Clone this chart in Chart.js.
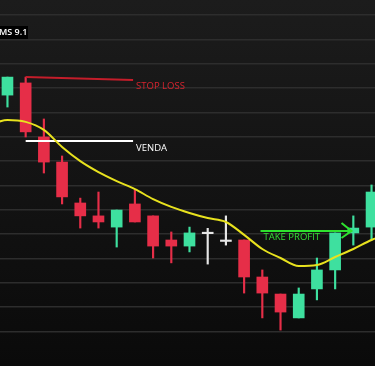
<!DOCTYPE html>
<html>
<head>
<meta charset="utf-8">
<script src="https://cdn.jsdelivr.net/npm/chart.js@4.4.1/dist/chart.umd.min.js"></script>
<style>
  html, body { margin: 0; padding: 0; background: #121212; }
  #wrap { width: 375px; height: 366px; position: relative; }
</style>
</head>
<body>
<div id="wrap"><canvas id="chart"></canvas></div>
<script>
// candles, one per session (index 1..21)
var opens  = [117.1, 122.1, 99.9, 89.6, 72.8, 67.5, 62.9, 72.4, 67.5, 57.6, 55.1, 60.2, 57.0, 57.6, 42.4, 35.4, 25.6, 37.5, 45.3, 60.5, 62.9];
var highs  = [124.5, 124.5, 107.3, 92.1, 74.8, 77.3, 69.9, 78.1, 67.5, 60.9, 62.9, 62.4, 67.5, 57.6, 45.3, 35.4, 37.9, 50.2, 60.5, 67.5, 80.2];
var lows   = [112.2, 99.9, 85.1, 72.4, 62.5, 62.5, 54.7, 65.0, 50.2, 48.2, 52.7, 47.7, 55.5, 35.8, 25.6, 20.6, 25.6, 33.0, 37.5, 55.5, 57.6];
var closes = [124.5, 102.0, 89.6, 75.3, 67.5, 65.0, 69.9, 65.0, 55.1, 55.1, 60.5, 60.8, 57.6, 42.4, 35.8, 28.0, 35.4, 45.3, 60.5, 62.5, 77.3];

// moving average (MMS 9.1), index 0..22
var maValues = [104.8, 106.9, 106.1, 102.8, 95.8, 90.0, 85.5, 81.8, 78.5, 74.4, 71.2, 68.7, 66.6, 65.0, 59.7, 53.9, 50.2, 46.9, 47.3, 50.6, 53.9, 57.6, 60.5];

// trade levels
var stopLossX = [2, 7.9];
var stopLossY = [124.5, 123.3];
var vendaX = [2, 7.9];
var vendaY = [98.3, 98.3];
var takeProfitX = [14.9, 19.8];
var takeProfitY = [61.3, 61.3];
var arrowX = [19.35, 19.9, 19.35];
var arrowY = [64.6, 61.3, 58.4];

var GREEN = '#3ee09f';
var RED = '#e62e48';
var DOJI = '#e6e6e6';

function candleColor(i) {
    if (Math.abs(closes[i] - opens[i]) < 0.7) return DOJI;
    return closes[i] > opens[i] ? GREEN : RED;
}

var colors = opens.map(function (o, i) { return candleColor(i); });
var bodies = opens.map(function (o, i) { return { x: i + 1, y: [o, closes[i]] }; });
var wicks = opens.map(function (o, i) { return { x: i + 1, y: [lows[i], highs[i]] }; });
var ma = maValues.map(function (v, i) { return { x: i, y: v }; });

function pts(xs, ys) {
    return xs.map(function (x, i) { return { x: x, y: ys[i] }; });
}

function levelLine(xs, ys, color, label) {
    return {
        type: 'line',
        data: pts(xs, ys),
        borderColor: color,
        borderWidth: 2,
        pointRadius: 0,
        tension: 0,
        order: 0,
        levelLabel: label
    };
}

// background gradient + MS 9.1 tag
var backdrop = {
    id: 'backdrop',
    beforeDraw: function (chart) {
        var c = chart.ctx;
        var g = c.createLinearGradient(0, 0, 0, chart.height);
        g.addColorStop(0, '#1c1c1c');
        g.addColorStop(1, '#0a0a0a');
        c.save();
        c.fillStyle = g;
        c.fillRect(0, 0, chart.width, chart.height);
        c.restore();
    },
    afterDraw: function (chart) {
        var c = chart.ctx;
        c.save();
        c.fillStyle = '#000';
        c.fillRect(0, 26, 28, 13);
        c.fillStyle = '#fff';
        c.font = '600 9px "Open Sans"';
        c.textBaseline = 'middle';
        c.fillText('MS 9.1', -1, 32.5);
        c.restore();
    }
};

// labels next to the trade level lines
var levelLabels = {
    id: 'levelLabels',
    afterDatasetsDraw: function (chart) {
        var c = chart.ctx;
        var xs = chart.scales.x, ys = chart.scales.y;
        c.save();
        c.font = '9.5px "Open Sans"';
        c.textBaseline = 'middle';
        chart.data.datasets.forEach(function (ds) {
            var l = ds.levelLabel;
            if (!l) return;
            var p = ds.data[l.at];
            c.fillStyle = l.color;
            c.fillText(l.text, xs.getPixelForValue(p.x) + l.dx, ys.getPixelForValue(p.y) + l.dy);
        });
        c.restore();
    }
};

new Chart(document.getElementById('chart'), {
    type: 'bar',
    data: {
        datasets: [
            {
                type: 'line',
                data: ma,
                borderColor: '#e8e21e',
                borderWidth: 2,
                pointRadius: 0,
                cubicInterpolationMode: 'monotone',
                order: 0
            },
            levelLine(stopLossX, stopLossY, '#c41d2a', { text: 'STOP LOSS', color: '#d8242f', at: 1, dx: 3, dy: 6 }),
            levelLine(vendaX, vendaY, '#ffffff', { text: 'VENDA', color: '#ffffff', at: 1, dx: 3, dy: 7 }),
            levelLine(takeProfitX, takeProfitY, '#2ee22e', { text: 'TAKE PROFIT', color: '#35dd35', at: 0, dx: 3, dy: 6 }),
            levelLine(arrowX, arrowY, '#2ee22e', null),
            {
                data: bodies,
                backgroundColor: colors,
                barThickness: 11,
                grouped: false,
                order: 1
            },
            {
                data: wicks,
                backgroundColor: colors,
                barThickness: 1.5,
                grouped: false,
                order: 2
            }
        ]
    },
    options: {
        responsive: true,
        maintainAspectRatio: false,
        animation: false,
        layout: { padding: 0 },
        plugins: { legend: { display: false }, tooltip: { enabled: false } },
        scales: {
            x: {
                type: 'linear',
                min: 0.59,
                max: 21.19,
                offset: false,
                display: false
            },
            y: {
                min: 5.85,
                max: 156.16,
                ticks: { display: false, stepSize: 10 },
                border: { display: false },
                grid: {
                    drawTicks: false,
                    lineWidth: 1.5,
                    color: function (ctx) {
                        return ctx.tick && ctx.tick.value % 10 === 0 ? '#2d2d2d' : 'transparent';
                    }
                }
            }
        }
    },
    plugins: [backdrop, levelLabels]
});
</script>
</body>
</html>
